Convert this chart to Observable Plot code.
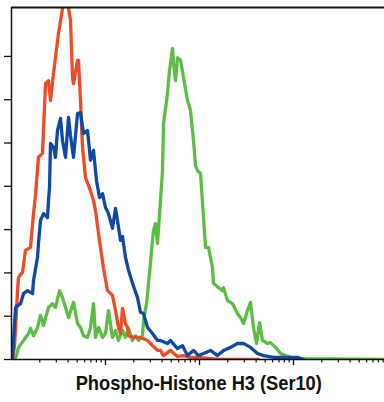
<!DOCTYPE html>
<html>
<head>
<meta charset="utf-8">
<script src="https://cdn.jsdelivr.net/npm/d3@7"></script>
<script src="https://cdn.jsdelivr.net/npm/@observablehq/plot@0.6"></script>
<style>
  html, body { margin: 0; padding: 0; background: #fff; }
  #wrap { position: relative; width: 384px; height: 402px; overflow: hidden; }
  #label {
    position: absolute; left: 0; top: 371px; width: 398px; text-align: center;
    font-family: "Liberation Sans", Arial, sans-serif;
    font-weight: bold; font-size: 21px; line-height: 24px; color: #111; white-space: nowrap;
  }
  #label span { display: inline-block; transform-origin: 50% 50%; }
</style>
</head>
<body>
<div id="wrap"><div id="chart"></div><div id="label"><span id="labelText"></span></div></div>
<script>
// ---- data (fluorescence intensity vs. relative count) ----
const xLabel = "Phospho-Histone H3 (Ser10)";
const xDomain = [1, 9290];
const yDomain = [0, 8.13];
const xTicksMajor = [10, 100, 1000];
const xTicksMinor = [2,3,4,5,6,7,8,9,20,30,40,50,60,70,80,90,200,300,400,500,600,700,800,900,2000,3000,4000,5000,6000,7000,8000,9000];
const yTicks = [0,1,2,3,4,5,6,7];

const redX = [1.025,1.076,1.103,1.158,1.187,1.247,1.309,1.409,1.517,1.593,1.714,1.800,1.937,2.137,2.300,2.475,2.600,2.798,3.162,3.488,3.574,3.847,4.040,4.243,4.456,4.567,5.037,5.161,5.421,5.693,6.127,6.926,7.454,7.828,8.425,9.523,10.50,11.87,12.78,13.75,14.44,15.17,16.32,17.14,17.57,19.86,23.57,25.37,27.98,31.62,35.74,38.47,41.40,49.13,58.33,67.57,80.22,95.23,130.9,167.3,424.8];
const redY = [0,0.32,0.67,1.59,1.89,1.96,2.01,2.52,2.56,2.59,3.37,3.79,4.67,4.76,6.37,6.44,5.98,6.61,7.53,8.11,8.3,8.3,8.11,7.83,6.51,6.37,6.91,6.91,5.98,4.90,4.20,3.90,3.67,3.44,2.91,2.10,1.59,1.48,1.13,0.74,0.60,1.18,0.83,0.74,0.55,0.51,0.51,0.48,0.44,0.32,0.21,0.21,0.09,0.21,0.07,0.09,0.05,0.05,0.02,0,0];

const blueX = [1.025,1.103,1.247,1.342,1.480,1.673,1.714,1.891,1.937,2.035,2.190,2.416,2.475,2.537,2.600,2.798,2.938,3.086,3.321,3.488,3.754,4.040,4.243,4.567,5.037,5.421,5.834,6.435,6.926,7.454,8.022,8.634,9.291,10.00,10.76,11.87,12.78,13.42,14.44,15.17,16.32,17.57,19.38,21.90,23.57,25.37,27.98,31.62,35.74,38.47,45.66,49.13,58.33,65.93,74.54,86.34,97.59,110.3,130.9,155.4,180.0,213.7,253.7,293.9,324.1,348.8,414.2,479.7,613.0,863.8,1104,1279];
const blueY = [0.05,1.20,1.29,1.52,1.59,1.52,1.82,2.36,2.68,3.21,3.37,3.28,3.67,3.97,4.99,4.90,4.67,5.29,5.57,5.06,4.67,5.59,5.17,4.67,5.68,5.70,5.22,5.29,4.60,4.83,4.13,3.74,3.83,3.51,3.37,3.03,3.49,3.21,2.75,2.84,2.36,2.06,1.76,1.43,1.09,1.06,0.74,0.60,0.44,0.44,0.37,0.44,0.25,0.32,0.09,0.21,0.09,0.14,0.21,0.09,0.21,0.28,0.37,0.37,0.32,0.28,0.14,0.09,0.05,0.05,0.05,0];

const greenX = [1.076,1.130,1.187,1.342,1.517,1.593,1.714,1.891,2.035,2.190,2.475,2.730,2.938,3.241,3.488,3.754,4.040,4.567,5.037,5.421,5.834,6.435,6.926,7.454,7.828,8.425,9.291,10.00,10.76,11.87,12.78,13.75,15.17,16.32,17.57,19.38,20.85,22.45,24.75,25.37,27.30,28.68,30.11,31.62,32.41,34.03,35.74,38.47,40.39,41.40,45.66,47.96,51.62,52.89,55.55,58.33,62.80,67.57,74.54,80.22,86.34,90.69,95.23,102.5,110.3,115.9,124.7,137.5,140.9,159.3,175.7,180.0,198.6,224.5,253.7,273.1,293.9,324.1,348.8,375.4,404.3,435.3,468.1,529.1,569.6,643.7,727.6,822.4,929.6,1104,9200];
const greenY = [0,0.09,0.28,0.44,0.60,0.72,0.55,0.74,1.02,0.79,1.20,1.29,1.20,1.59,1.43,1.20,0.97,1.32,0.83,0.74,0.55,0.51,0.74,1.29,0.51,0.74,0.51,0.60,1.13,0.51,0.67,0.44,0.67,0.51,0.72,0.44,0.55,0.44,0.55,0.90,1.29,1.76,2.24,2.75,2.98,3.14,2.68,3.67,4.36,5.45,6.14,6.67,7.18,6.84,6.44,6.97,6.91,6.51,5.98,5.75,5.06,4.48,4.36,4.30,3.28,2.59,2.59,2.12,1.76,1.66,1.59,1.66,1.36,1.29,1.06,0.97,0.83,1.13,1.32,0.74,0.37,0.85,0.44,0.37,0.39,0.28,0.14,0.09,0.05,0.02,0];

const seriesNames = ["green", "red", "blue"];
const seriesColors = {green: "#5cbd45", red: "#ee4b26", blue: "#0e4aa3"};
const seriesData = {
  green: greenX.map((x, i) => ({x, y: greenY[i]})),
  red: redX.map((x, i) => ({x, y: redY[i]})),
  blue: blueX.map((x, i) => ({x, y: blueY[i]}))
};

const chart = Plot.plot({
  width: 384,
  height: 366,
  marginTop: 7,
  marginBottom: 7,
  marginLeft: 11,
  marginRight: 0,
  x: {type: "log", domain: xDomain, axis: null},
  y: {domain: yDomain, axis: null},
  marks: [
    ...seriesNames.map(name => Plot.line(seriesData[name], {
      x: "x", y: "y", stroke: seriesColors[name], strokeWidth: 3.3,
      strokeLinejoin: "round", clip: true
    })),
    Plot.ruleX([xDomain[0]], {stroke: "#111", strokeWidth: 1.5}),
    Plot.ruleY([yDomain[0]], {stroke: "#111", strokeWidth: 1.5}),
    Plot.ruleY([yDomain[1]], {stroke: "#111", strokeWidth: 2}),
    Plot.axisX({ticks: xTicksMajor, tickSize: 6, tickFormat: () => "", label: null, stroke: "#111", strokeWidth: 1.3}),
    Plot.axisX({ticks: xTicksMinor, tickSize: 3.5, tickFormat: () => "", label: null, stroke: "#111", strokeWidth: 1.2}),
    Plot.axisY({ticks: yTicks, tickSize: 7, tickFormat: () => "", label: null, stroke: "#111", strokeWidth: 1.3})
  ]
});
document.getElementById("chart").appendChild(chart);
const span = document.getElementById("labelText");
span.textContent = xLabel;
const w = span.getBoundingClientRect().width;
span.style.transform = `scaleX(${(246 / w).toFixed(3)})`;
</script>
</body>
</html>
